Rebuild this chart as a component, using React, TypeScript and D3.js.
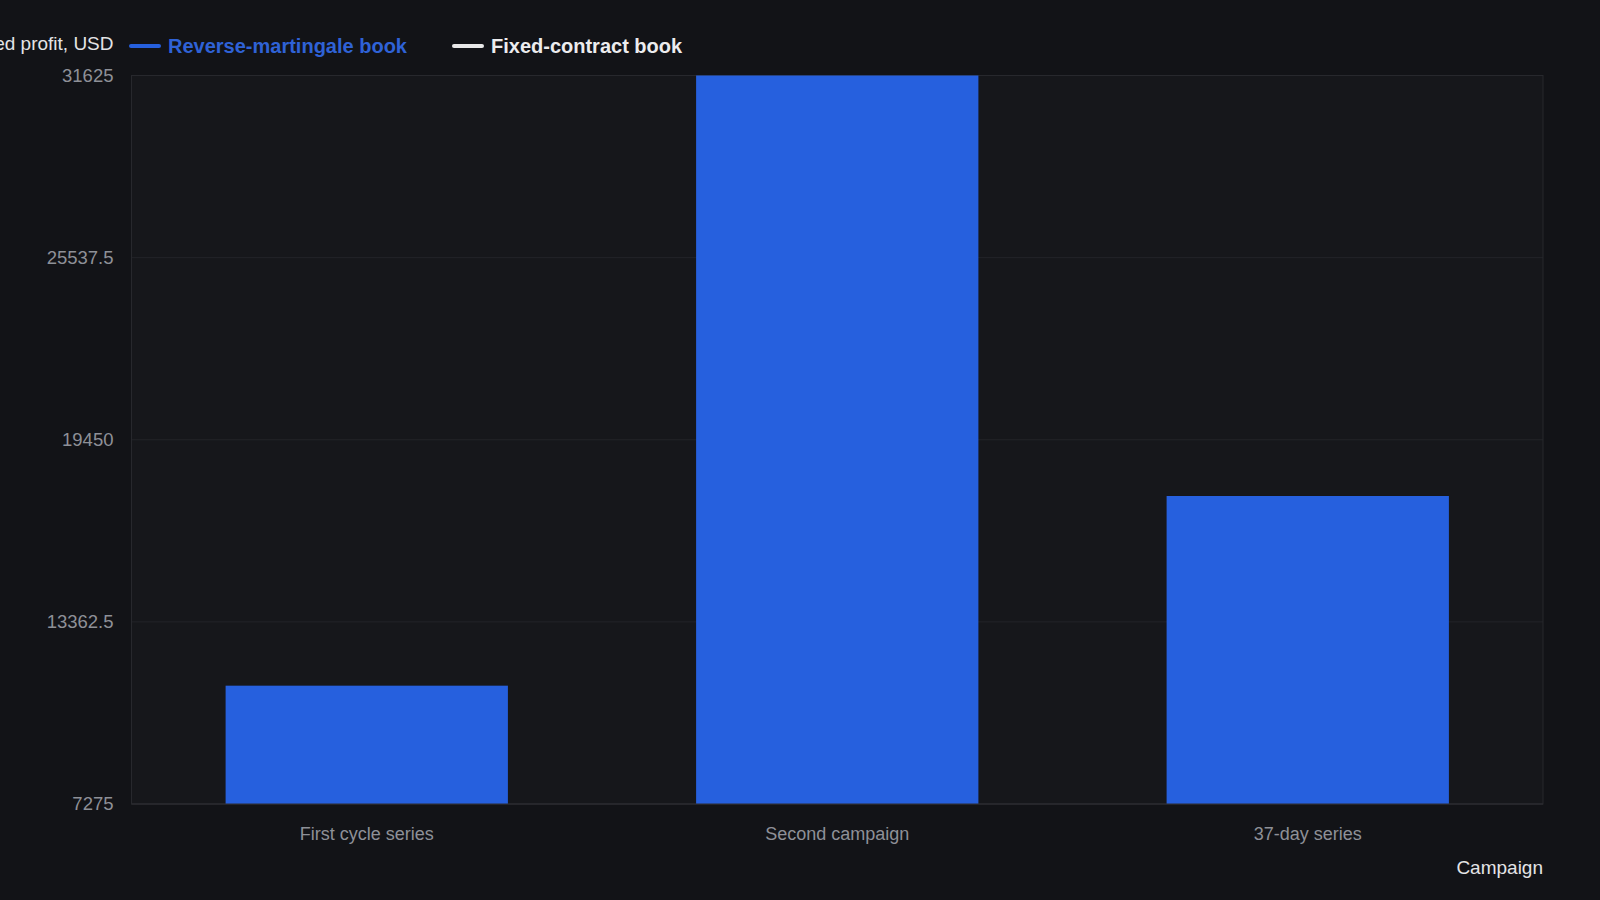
import * as d3 from "d3";
import { useEffect, useRef } from "react";

const campaigns = ["First cycle series", "Second campaign", "37-day series"];
const reverseMartingale = [11230, 31625, 17570];
const yTicks = [7275, 13362.5, 19450, 25537.5, 31625];
const seriesNames = ["Reverse-martingale book", "Fixed-contract book"];
const seriesColors = ["#2660de", "#e8e8e8"];

export default function App() {
  const ref = useRef<SVGSVGElement>(null);

  useEffect(() => {
    const width = 1600;
    const height = 900;
    const margin = { top: 75.5, right: 57, bottom: 96, left: 131.5 };
    const font = "Liberation Sans, Arial, sans-serif";

    const svg = d3.select(ref.current);
    svg.selectAll("*").remove();

    svg.append("rect").attr("width", width).attr("height", height).attr("fill", "#121317");

    const x = d3
      .scaleBand<string>()
      .domain(campaigns)
      .range([margin.left, width - margin.right])
      .paddingInner(0.4)
      .paddingOuter(0.2);

    const y = d3
      .scaleLinear()
      .domain([yTicks[0], yTicks[yTicks.length - 1]])
      .range([height - margin.bottom, margin.top]);

    // plot background
    svg
      .append("rect")
      .attr("x", margin.left)
      .attr("y", margin.top)
      .attr("width", width - margin.left - margin.right)
      .attr("height", height - margin.top - margin.bottom)
      .attr("fill", "#16171b");

    // gridlines
    svg
      .append("g")
      .selectAll("line")
      .data(yTicks)
      .join("line")
      .attr("x1", margin.left)
      .attr("x2", width - margin.right)
      .attr("y1", (d) => y(d))
      .attr("y2", (d) => y(d))
      .attr("stroke", "#232429")
      .attr("stroke-width", 1);

    svg
      .append("rect")
      .attr("x", margin.left)
      .attr("y", margin.top)
      .attr("width", width - margin.left - margin.right)
      .attr("height", height - margin.top - margin.bottom)
      .attr("fill", "none")
      .attr("stroke", "#27282d")
      .attr("stroke-width", 1);

    // bars
    svg
      .append("g")
      .selectAll("rect")
      .data(reverseMartingale)
      .join("rect")
      .attr("x", (_, i) => x(campaigns[i])!)
      .attr("width", x.bandwidth())
      .attr("y", (d) => y(d))
      .attr("height", (d) => y(yTicks[0]) - y(d))
      .attr("fill", seriesColors[0]);

    // bottom axis line
    svg
      .append("line")
      .attr("x1", margin.left)
      .attr("x2", width - margin.right)
      .attr("y1", y(yTicks[0]))
      .attr("y2", y(yTicks[0]))
      .attr("stroke", "#2c2d32");

    // y tick labels
    svg
      .append("g")
      .selectAll("text")
      .data(yTicks)
      .join("text")
      .attr("x", 113.5)
      .attr("y", (d) => y(d))
      .attr("dy", "0.35em")
      .attr("text-anchor", "end")
      .attr("font-family", font)
      .attr("font-size", 18.5)
      .attr("fill", "#8e9097")
      .text((d) => String(d));

    // x tick labels
    svg
      .append("g")
      .selectAll("text")
      .data(campaigns)
      .join("text")
      .attr("x", (d) => x(d)! + x.bandwidth() / 2)
      .attr("y", 834)
      .attr("dy", "0.35em")
      .attr("text-anchor", "middle")
      .attr("font-family", font)
      .attr("font-size", 18)
      .attr("fill", "#8e9097")
      .text((d) => d);

    // axis titles (y title is clipped at the left edge, as in the source)
    svg
      .append("text")
      .attr("x", 113.5)
      .attr("y", 43)
      .attr("dy", "0.35em")
      .attr("text-anchor", "end")
      .attr("font-family", font)
      .attr("font-size", 19)
      .attr("fill", "#e4e4e6")
      .text("Realized profit, USD");

    svg
      .append("text")
      .attr("x", width - margin.right)
      .attr("y", 867)
      .attr("dy", "0.35em")
      .attr("text-anchor", "end")
      .attr("font-family", font)
      .attr("font-size", 19)
      .attr("fill", "#e4e4e6")
      .text("Campaign");

    // legend
    const legendX = [131, 454];
    const legend = svg
      .append("g")
      .selectAll("g")
      .data(seriesNames)
      .join("g")
      .attr("transform", (_, i) => `translate(${legendX[i]},46)`);

    legend
      .append("line")
      .attr("x1", 0)
      .attr("x2", 28)
      .attr("stroke", (_, i) => seriesColors[i])
      .attr("stroke-width", 4)
      .attr("stroke-linecap", "round");

    legend
      .append("text")
      .attr("x", 37)
      .attr("dy", "0.35em")
      .attr("font-family", font)
      .attr("font-size", 20)
      .attr("font-weight", "bold")
      .attr("fill", (_, i) => (i === 0 ? "#2f62d6" : "#ececee"))
      .text((d) => d);
  }, []);

  return (
    <svg
      ref={ref}
      width={1600}
      height={900}
      viewBox="0 0 1600 900"
      style={{ display: "block", position: "absolute", left: 0, top: 0 }}
    />
  );
}
